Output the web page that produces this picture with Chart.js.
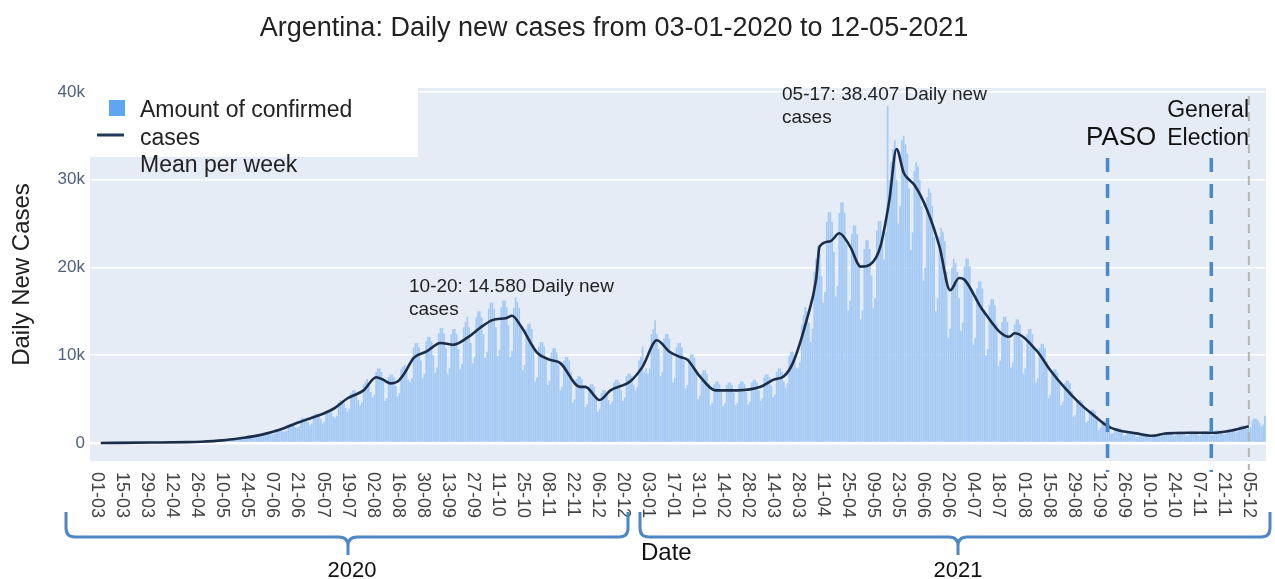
<!DOCTYPE html>
<html>
<head>
<meta charset="utf-8">
<title>Argentina daily new cases</title>
<script src="https://cdn.jsdelivr.net/npm/chart.js@4.4.1/dist/chart.umd.min.js"></script>
<style>
  body { margin: 0; background: #fff; }
  #wrap { width: 1275px; height: 579px; }
</style>
</head>
<body>
<div id="wrap"><canvas id="casesChart" width="1275" height="579"></canvas></div>
<script>
// x axis is "days since 01-03-2020"; ticks every 14 days
const tickLabels = [
  "01-03", "15-03", "29-03", "12-04", "26-04", "10-05", "24-05", "07-06", "21-06", "05-07", "19-07",
  "02-08", "16-08", "30-08", "13-09", "27-09", "11-10", "25-10", "08-11", "22-11", "06-12", "20-12",
  "03-01", "17-01", "31-01", "14-02", "28-02", "14-03", "28-03", "11-04", "25-04", "09-05", "23-05",
  "06-06", "20-06", "04-07", "18-07", "01-08", "15-08", "29-08", "12-09", "26-09", "10-10", "24-10",
  "07-11", "21-11", "05-12"
];
const tickStep = 14;

// daily confirmed cases (thousands), one value per day from 01-03-2020 to 02-01-2021
const dailyCasesPart1 = [
  0, 0, 0, 0, 0, 0, 0.01,
  0.01, 0.01, 0.01, 0.01, 0.01, 0.01, 0.02,
  0.01, 0.02, 0.02, 0.03, 0.02, 0.03, 0.03,
  0.05, 0.06, 0.07, 0.08, 0.09, 0.06, 0.1,
  0.08, 0.07, 0.12, 0.1, 0.09, 0.11, 0.1,
  0.07, 0.1, 0.12, 0.1, 0.11, 0.1, 0.09,
  0.08, 0.1, 0.11, 0.13, 0.1, 0.12, 0.1,
  0.09, 0.1, 0.14, 0.13, 0.15, 0.12, 0.11,
  0.11, 0.12, 0.17, 0.16, 0.18, 0.15, 0.14,
  0.14, 0.16, 0.22, 0.24, 0.23, 0.2, 0.19,
  0.26, 0.3, 0.45, 0.46, 0.47, 0.44, 0.4,
  0.4, 0.42, 0.6, 0.65, 0.62, 0.6, 0.55,
  0.52, 0.56, 0.82, 0.87, 0.86, 0.83, 0.74,
  0.7, 0.75, 1.1, 1.15, 1.15, 1.1, 0.95,
  1.0, 1.05, 1.55, 1.6, 1.6, 1.55, 1.3,
  1.3, 1.4, 2.1, 2.2, 2.2, 2.1, 1.8,
  1.75, 1.9, 2.75, 2.9, 2.85, 2.75, 2.4,
  2.0, 2.2, 3.2, 3.35, 3.3, 3.2, 2.75,
  2.2, 2.4, 3.5, 3.7, 3.7, 3.5, 3.0,
  2.9, 3.1, 4.6, 4.9, 4.8, 4.6, 4.0,
  3.6, 3.9, 5.7, 6.0, 6.0, 5.7, 4.9,
  4.3, 4.6, 6.7, 7.0, 7.3, 6.7, 5.8,
  5.2, 5.5, 8.1, 8.5, 8.5, 8.1, 7.0,
  4.8, 5.1, 7.5, 7.8, 7.8, 7.5, 6.5,
  5.3, 5.7, 8.4, 8.7, 8.9, 8.4, 7.2,
  6.9, 7.4, 10.9, 11.4, 11.4, 10.9, 9.4,
  7.4, 7.9, 11.6, 12.1, 12.1, 11.6, 10.0,
  8.0, 8.6, 12.5, 13.1, 13.1, 12.5, 10.8,
  7.9, 8.5, 12.4, 13.0, 13.0, 12.4, 10.7,
  8.4, 9.0, 13.2, 13.8, 14.4, 13.2, 11.4,
  9.1, 9.8, 14.3, 15.0, 15.0, 14.3, 12.4,
  9.7, 10.4, 15.3, 16.0, 16.0, 15.3, 13.2,
  9.9, 10.6, 15.5, 16.2, 16.2, 15.5, 13.4,
  9.8, 10.5, 15.4, 16.6, 16.1, 15.4, 13.3,
  8.3, 8.9, 13.0, 13.6, 13.6, 13.0, 11.2,
  7.0, 7.5, 11.0, 11.5, 11.5, 11.0, 9.5,
  6.6, 7.1, 10.3, 10.8, 10.8, 10.3, 8.9,
  6.0, 6.4, 9.4, 9.8, 9.8, 9.4, 8.1,
  4.6, 5.0, 7.3, 7.6, 7.6, 7.3, 6.3,
  4.1, 4.4, 6.4, 6.7, 6.7, 6.4, 5.5,
  3.6, 3.9, 5.7, 6.0, 6.0, 5.7, 4.9,
  4.4, 4.7, 6.9, 7.2, 7.2, 6.9, 6.0,
  4.8, 5.2, 7.6, 7.9, 7.9, 7.6, 6.6,
  6.0, 6.4, 9.4, 9.8, 11.0, 8.0, 8.5
];

// daily confirmed cases (thousands), from 03-01-2021 to 14-12-2021
const dailyCasesPart2 = [
  7.9, 8.5, 12.4, 13.0, 14.0, 12.4, 10.7,
  7.6, 8.1, 11.9, 12.4, 12.4, 11.9, 10.3,
  6.9, 7.4, 10.9, 11.4, 11.4, 10.9, 9.4,
  6.2, 6.6, 9.7, 10.1, 10.1, 9.7, 8.4,
  5.0, 5.4, 7.9, 8.3, 8.3, 7.9, 6.8,
  4.3, 4.6, 6.7, 7.0, 7.0, 6.7, 5.8,
  4.2, 4.5, 6.6, 6.9, 6.9, 6.6, 5.7,
  4.3, 4.6, 6.7, 7.0, 7.0, 6.7, 5.8,
  4.4, 4.7, 6.9, 7.2, 7.2, 6.9, 6.0,
  4.8, 5.1, 7.5, 7.8, 7.8, 7.5, 6.5,
  5.2, 5.5, 8.1, 8.5, 8.5, 8.1, 7.0,
  6.3, 6.8, 9.9, 10.4, 10.4, 9.9, 8.6,
  8.5, 9.2, 13.5, 14.6, 15.5, 15.0, 13.7,
  11.5, 13.0, 19.5, 21.0, 22.5, 21.5, 19.0,
  16.0, 17.2, 25.2, 26.3, 26.3, 25.2, 21.8,
  16.7, 17.9, 26.2, 27.4, 27.4, 26.2, 22.6,
  15.1, 16.2, 23.8, 24.8, 24.8, 23.8, 20.5,
  14.1, 15.1, 22.1, 23.1, 23.1, 22.1, 19.1,
  15.4, 16.5, 24.2, 25.3, 25.3, 24.2, 20.9,
  24.0, 38.4, 30.0, 32.0, 33.5, 34.5, 30.0,
  25.0, 27.0, 34.5, 35.0, 34.0, 33.0, 29.0,
  22.0, 24.0, 31.0, 32.0, 31.5, 30.0, 27.0,
  18.5, 20.0, 28.0, 29.0, 28.5, 27.0, 23.5,
  15.0, 16.5, 23.5, 24.5, 24.0, 23.0, 19.5,
  12.0, 13.0, 20.0, 21.0, 20.5, 19.5, 16.5,
  12.8, 13.7, 20.1, 21.0, 21.0, 20.1, 17.4,
  11.2, 12.0, 17.6, 18.4, 18.4, 17.6, 15.2,
  10.0, 10.7, 15.7, 16.4, 16.4, 15.7, 13.6,
  8.8, 9.4, 13.8, 14.4, 14.4, 13.8, 11.9,
  8.6, 9.2, 13.5, 14.1, 14.1, 13.5, 11.7,
  7.9, 8.5, 12.4, 13.0, 13.0, 12.4, 10.7,
  6.9, 7.4, 10.8, 11.3, 11.3, 10.8, 9.3,
  5.1, 5.5, 8.0, 8.4, 8.4, 8.0, 6.9,
  4.3, 4.7, 6.8, 7.1, 7.1, 6.8, 5.9,
  3.0, 3.2, 4.7, 4.9, 4.9, 4.7, 4.1,
  2.3, 2.5, 3.6, 3.8, 3.8, 3.6, 3.1,
  1.5, 1.7, 2.4, 2.5, 2.5, 2.4, 2.1,
  1.05, 1.1, 1.65, 1.7, 1.7, 1.65, 1.4,
  0.84, 0.9, 1.32, 1.38, 1.38, 1.32, 1.14,
  0.7, 0.75, 1.1, 1.15, 1.15, 1.1, 0.95,
  0.6, 0.64, 0.94, 0.98, 0.98, 0.94, 0.81,
  0.74, 0.79, 1.16, 1.21, 1.21, 1.16, 1.0,
  0.8, 0.86, 1.27, 1.32, 1.32, 1.27, 1.09,
  0.81, 0.87, 1.26, 1.33, 1.31, 1.27, 1.1,
  0.84, 0.9, 1.32, 1.38, 1.38, 1.32, 1.14,
  0.88, 0.94, 1.38, 1.44, 1.44, 1.38, 1.19,
  0.98, 1.05, 1.54, 1.61, 1.61, 1.54, 1.33,
  1.2, 1.3, 1.9, 2.0, 2.0, 1.9, 1.6,
  1.7, 1.8, 2.6, 2.8, 2.8, 2.6, 2.3,
  1.9, 2.1, 3.1
];

// weekly mean line (thousands), read at these day offsets
const meanDays = [
  2, 30, 50, 58, 70, 80, 91, 102, 112, 119, 126, 133, 140, 149, 156, 160, 164, 168, 172, 177,
  184, 192, 199, 207, 214, 221, 229, 232, 237, 246, 253, 259, 270, 273, 281, 287, 298, 305, 313, 320,
  326, 330, 337, 346, 358, 371, 378, 384, 389, 397, 402, 404, 410, 415, 421, 427, 432, 438, 443, 447,
  451, 454, 457, 464, 471, 477, 482, 485, 495, 510, 513, 525, 533, 541, 550, 557, 564, 570, 581, 590,
  598, 611, 624, 633, 644
];
const meanValues = [
  0, 0.05, 0.1, 0.15, 0.3, 0.55, 0.9, 1.5, 2.3, 2.8, 3.3, 4.0, 5.1, 6.0, 7.5, 7.2, 6.8, 7.0, 8.0, 9.7,
  10.4, 11.4, 11.2, 12.0, 13.1, 14.0, 14.25, 14.5, 13.3, 10.3, 9.5, 9.1, 6.4, 6.4, 4.9, 6.0, 7.0, 8.7, 11.7, 10.4,
  9.8, 9.5, 7.6, 6.0, 6.0, 6.4, 7.2, 7.6, 9.1, 14.2, 18.6, 22.4, 23.0, 23.9, 22.4, 20.1, 20.3, 22.4, 27.7, 33.5,
  30.8, 30.0, 29.4, 26.6, 22.4, 17.4, 18.8, 18.6, 15.2, 12.1, 12.5, 10.6, 8.3, 6.3, 4.4, 3.2, 2.05, 1.5, 1.1, 0.83,
  1.1, 1.17, 1.17, 1.37, 1.9
];

const yTicks = [0, 10, 20, 30, 40];
const events = [
  { day: 565, label: "PASO" },
  { day: 623, label: "General Election" }
];
const lastReportDay = 644;

const FONT = '"Liberation Sans", Arial, Helvetica, sans-serif';
const dailyCases = dailyCasesPart1.concat(dailyCasesPart2);

const plotBackground = {
  id: "plotBackground",
  beforeDraw(chart) {
    const { ctx, chartArea: a } = chart;
    ctx.save();
    ctx.fillStyle = "#e5ecf6";
    ctx.fillRect(a.left, a.top, a.right - a.left, a.bottom - a.top);
    ctx.restore();
  }
};

function drawBrace(ctx, x0, x1, xm, yTop, yLine, yTip) {
  const r = 9;
  ctx.beginPath();
  ctx.moveTo(x0, yTop);
  ctx.lineTo(x0, yLine - r);
  ctx.quadraticCurveTo(x0, yLine, x0 + r, yLine);
  ctx.lineTo(xm - r, yLine);
  ctx.quadraticCurveTo(xm, yLine, xm, yLine + r);
  ctx.lineTo(xm, yTip);
  ctx.moveTo(xm, yLine + r);
  ctx.quadraticCurveTo(xm, yLine, xm + r, yLine);
  ctx.lineTo(x1 - r, yLine);
  ctx.quadraticCurveTo(x1, yLine, x1, yLine - r);
  ctx.lineTo(x1, yTop);
  ctx.stroke();
}

const decorations = {
  id: "decorations",
  afterDraw(chart) {
    const { ctx } = chart;
    const xs = chart.scales.x;
    ctx.save();

    // title
    ctx.fillStyle = "#222";
    ctx.font = "27px " + FONT;
    ctx.textAlign = "center";
    ctx.textBaseline = "middle";
    ctx.fillText("Argentina: Daily new cases from 03-01-2020 to 12-05-2021", 614, 29);

    // event lines
    ctx.setLineDash([14, 12]);
    ctx.strokeStyle = "#4a88c7";
    ctx.lineWidth = 3.5;
    events.forEach((e) => {
      const x = xs.getPixelForValue(e.day);
      ctx.beginPath();
      ctx.moveTo(x, 158);
      ctx.lineTo(x, 472);
      ctx.stroke();
    });
    ctx.setLineDash([9, 7]);
    ctx.strokeStyle = "#b4b4b4";
    ctx.lineWidth = 2;
    const xl = xs.getPixelForValue(lastReportDay);
    ctx.beginPath();
    ctx.moveTo(xl, 96);
    ctx.lineTo(xl, 470);
    ctx.stroke();
    ctx.setLineDash([]);

    // event labels
    ctx.fillStyle = "#111";
    ctx.textBaseline = "alphabetic";
    ctx.textAlign = "left";
    ctx.font = "26px " + FONT;
    ctx.fillText("PASO", 1086, 145);
    ctx.textAlign = "right";
    ctx.font = "23px " + FONT;
    ctx.fillText("General", 1249, 117);
    ctx.fillText("Election", 1249, 145);

    // peak annotations
    ctx.textAlign = "left";
    ctx.fillStyle = "#222";
    ctx.font = "19px " + FONT;
    ctx.fillText("10-20: 14.580 Daily new", 409, 292);
    ctx.fillText("cases", 409, 315);
    ctx.fillText("05-17: 38.407 Daily new", 782, 100);
    ctx.fillText("cases", 782, 123);

    // legend
    ctx.fillStyle = "#fff";
    ctx.fillRect(90, 86, 328, 71);
    ctx.fillStyle = "#5ea6f2";
    ctx.fillRect(109, 100, 16, 16);
    ctx.strokeStyle = "#23395b";
    ctx.lineWidth = 3;
    ctx.beginPath();
    ctx.moveTo(97, 135);
    ctx.lineTo(124, 135);
    ctx.stroke();
    ctx.fillStyle = "#222";
    ctx.font = "23px " + FONT;
    ctx.fillText("Amount of confirmed", 140, 117);
    ctx.fillText("cases", 140, 145);
    ctx.fillText("Mean per week", 140, 172);

    // x tick labels, rotated clockwise
    ctx.fillStyle = "#444";
    ctx.font = "18px " + FONT;
    ctx.textBaseline = "middle";
    tickLabels.forEach((lab, i) => {
      const x = xs.getPixelForValue(i * tickStep);
      ctx.save();
      ctx.translate(x, 472);
      ctx.rotate(Math.PI / 2);
      ctx.fillText(lab, 0, 0);
      ctx.restore();
    });

    // year braces
    ctx.strokeStyle = "#4f86c6";
    ctx.lineWidth = 3;
    drawBrace(ctx, 66, 628, 348, 512, 537, 555);
    drawBrace(ctx, 640, 1270, 958, 512, 537, 555);
    ctx.fillStyle = "#111";
    ctx.textAlign = "center";
    ctx.textBaseline = "alphabetic";
    ctx.font = "22px " + FONT;
    ctx.fillText("2020", 352, 577);
    ctx.fillText("2021", 958, 577);
    ctx.textAlign = "left";
    ctx.font = "24px " + FONT;
    ctx.fillText("Date", 641, 560);

    ctx.restore();
  }
};

new Chart(document.getElementById("casesChart"), {
  type: "bar",
  data: {
    datasets: [
      {
        type: "line",
        label: "Mean per week",
        data: meanDays.map((d, i) => ({ x: d, y: meanValues[i] })),
        borderColor: "#1b2d48",
        borderWidth: 2.6,
        pointRadius: 0,
        cubicInterpolationMode: "monotone",
        fill: false,
        order: 1
      },
      {
        label: "Amount of confirmed cases",
        data: dailyCases.map((v, i) => ({ x: i, y: v })),
        backgroundColor: "#a3c9f4",
        borderWidth: 0,
        barPercentage: 0.95,
        categoryPercentage: 1,
        order: 2
      }
    ]
  },
  options: {
    responsive: false,
    animation: false,
    events: [],
    layout: { padding: { top: 88, right: 9, bottom: 0, left: 0 } },
    plugins: {
      legend: { display: false },
      title: { display: false },
      tooltip: { enabled: false }
    },
    scales: {
      x: {
        type: "linear",
        min: -4,
        max: 653.6,
        offset: false,
        ticks: { display: false },
        grid: { display: false },
        border: { display: false },
        afterFit: (scale) => { scale.height = 118; }
      },
      y: {
        min: -2.05,
        max: 40.45,
        afterBuildTicks: (scale) => { scale.ticks = yTicks.map((v) => ({ value: v })); },
        ticks: {
          padding: 5,
          color: "#52617d",
          font: { size: 17, family: FONT },
          callback: (v) => (v === 0 ? "0" : v + "k")
        },
        grid: {
          color: "#ffffff",
          drawTicks: false,
          lineWidth: (c) => (c.tick && c.tick.value === 0 ? 2.5 : 1.5)
        },
        border: { display: false },
        title: {
          display: true,
          text: "Daily New Cases",
          color: "#222",
          font: { size: 24, family: FONT },
          padding: { top: 8, bottom: 0 }
        },
        afterFit: (scale) => { scale.width = 90; }
      }
    }
  },
  plugins: [plotBackground, decorations]
});
</script>
</body>
</html>
